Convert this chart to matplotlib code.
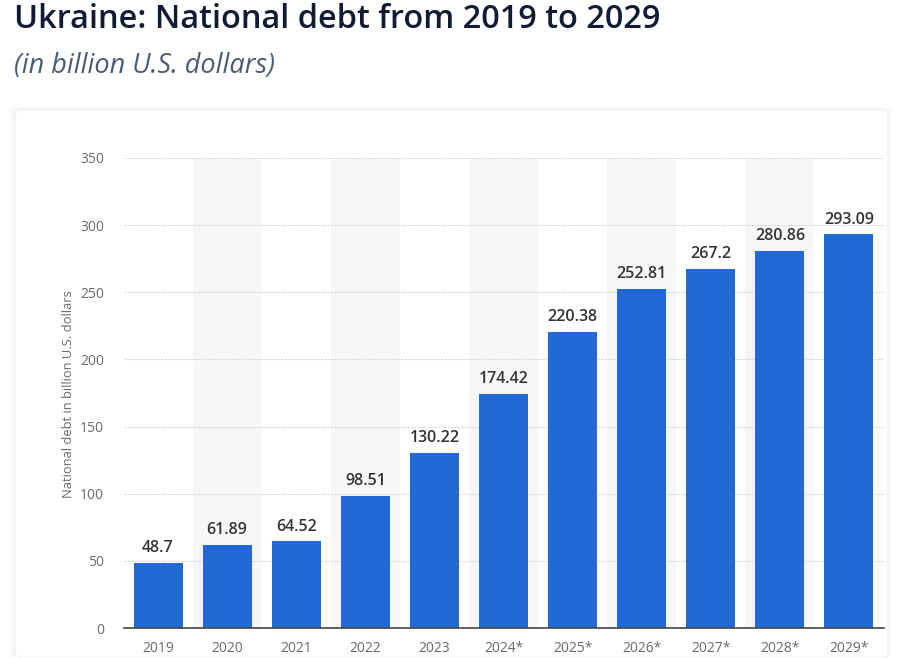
import matplotlib
matplotlib.use("Agg")
import matplotlib.pyplot as plt
from matplotlib.patches import FancyBboxPatch

plt.rcParams['font.family'] = ['Open Sans', 'DejaVu Sans']

years = ["2019", "2020", "2021", "2022", "2023", "2024*", "2025*",
         "2026*", "2027*", "2028*", "2029*"]
debt = [48.7, 61.89, 64.52, 98.51, 130.22, 174.42, 220.38,
        252.81, 267.2, 280.86, 293.09]
value_labels = ["48.7", "61.89", "64.52", "98.51", "130.22", "174.42",
                "220.38", "252.81", "267.2", "280.86", "293.09"]
yticks = [0, 50, 100, 150, 200, 250, 300, 350]

W, H = 914, 658
fig = plt.figure(figsize=(W / 100, H / 100), dpi=100)
fig.patch.set_facecolor("white")

# card with soft shadow
for i, a in enumerate([0.015, 0.02, 0.03]):
    off = (3 - i) * 2
    fig.patches.append(FancyBboxPatch(
        ((15 - off) / W, 0), (873 + 2 * off) / W, (H - 110 + off) / H,
        boxstyle="round,pad=0,rounding_size=0.008",
        transform=fig.transFigure, facecolor="#8a94a6", alpha=a,
        edgecolor="none", zorder=0))
fig.patches.append(FancyBboxPatch(
    (15 / W, 0), 873 / W, (H - 110) / H,
    boxstyle="round,pad=0,rounding_size=0.008",
    transform=fig.transFigure, facecolor="white", edgecolor="#f0f1f4",
    linewidth=1, zorder=1))

fig.text(14 / W, 1 - 19 / H, "Ukraine: National debt from 2019 to 2029",
         fontsize=23.4, fontweight="semibold", color="#0f1c33",
         ha="left", va="center")
fig.text(14 / W, 1 - 66 / H, "(in billion U.S. dollars)",
         fontsize=19.5, fontstyle="italic", color="#4b5c73",
         ha="left", va="center")

ax = fig.add_axes([123.5 / W, 1 - 628 / H, 760 / W, 470 / H], zorder=3)
ax.set_facecolor("none")
x = list(range(len(years)))

for i in x:
    if i % 2 == 1:
        ax.axvspan(i - 0.5, i + 0.5, color="#f7f7f8", zorder=0, lw=0)

ax.bar(x, debt, width=0.71, color="#2369d6", zorder=3)
for xi, v, lab in zip(x, debt, value_labels):
    ax.text(xi, v + 5, lab, ha="center", va="bottom", fontsize=11.5,
            fontweight="semibold", color="#333333", zorder=4)

ax.set_xlim(-0.5, len(years) - 0.5)
ax.set_ylim(0, 350)
ax.set_yticks(yticks)
ax.set_xticks(x)
ax.set_xticklabels(years)
ax.yaxis.grid(True, color="#d8d8d8", linestyle=(0, (2, 1)), linewidth=0.8,
              zorder=1)
ax.set_axisbelow(True)
for s in ["top", "right", "left"]:
    ax.spines[s].set_visible(False)
ax.spines["bottom"].set_color("#444444")
ax.spines["bottom"].set_linewidth(1.2)
ax.spines["bottom"].set_zorder(5)
ax.tick_params(axis="both", length=0, labelsize=10, labelcolor="#6a6a6a")
ax.tick_params(axis="x", pad=9)
ax.tick_params(axis="y", pad=14)
ax.set_ylabel("National debt in billion U.S. dollars", fontsize=9.3,
              color="#6a6a6a")
ax.yaxis.set_label_coords((75 - 123.5) / 760, (628 - 394) / 470)

fig.savefig("out.png", dpi=100, facecolor="white")
